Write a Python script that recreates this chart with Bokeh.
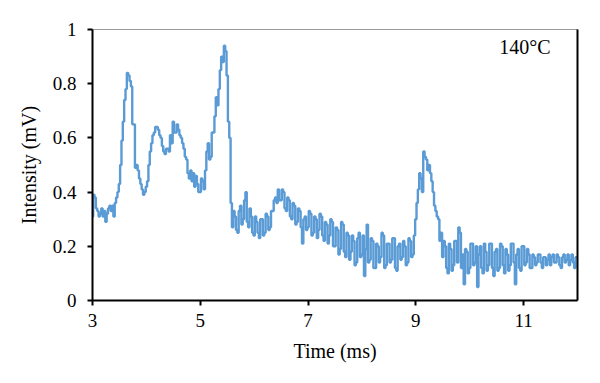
from bokeh.plotting import figure
from bokeh.models import LinearAxis, Range1d, FixedTicker, Label
from bokeh.embed import file_html
from bokeh.resources import INLINE

# sampled signal: start time, sample interval (ms)
t_start = 3.0
t_step = 0.025
intensity = [
    # 3.00 - 3.475
    0.31, 0.39, 0.38, 0.34, 0.33, 0.31, 0.32, 0.34, 0.31, 0.33,
    0.29, 0.32, 0.34, 0.35, 0.33, 0.35, 0.31, 0.36, 0.38, 0.40,
    # 3.50 - 3.975
    0.43, 0.50, 0.59, 0.66, 0.74, 0.78, 0.84, 0.83, 0.81, 0.79,
    0.65, 0.65, 0.49, 0.50, 0.48, 0.45, 0.43, 0.41, 0.39, 0.40,
    # 4.00 - 4.475
    0.42, 0.44, 0.50, 0.55, 0.58, 0.61, 0.62, 0.64, 0.64, 0.63,
    0.61, 0.60, 0.57, 0.55, 0.54, 0.56, 0.56, 0.55, 0.61, 0.58,
    # 4.50 - 4.975
    0.66, 0.62, 0.62, 0.65, 0.63, 0.61, 0.60, 0.58, 0.56, 0.53,
    0.52, 0.47, 0.45, 0.48, 0.44, 0.47, 0.42, 0.46, 0.43, 0.40,
    # 5.00 - 5.475
    0.40, 0.45, 0.44, 0.41, 0.48, 0.55, 0.58, 0.52, 0.53, 0.62,
    0.62, 0.68, 0.75, 0.72, 0.78, 0.85, 0.90, 0.88, 0.94, 0.92,
    # 5.50 - 5.975
    0.83, 0.66, 0.60, 0.36, 0.27, 0.33, 0.31, 0.26, 0.25, 0.33,
    0.35, 0.28, 0.30, 0.37, 0.40, 0.29, 0.27, 0.34, 0.31, 0.25,
    # 6.00 - 6.475
    0.24, 0.31, 0.29, 0.25, 0.23, 0.30, 0.30, 0.24, 0.25, 0.32,
    0.31, 0.26, 0.27, 0.33, 0.33, 0.37, 0.38, 0.36, 0.41, 0.37,
    # 6.50 - 6.975
    0.37, 0.41, 0.40, 0.34, 0.33, 0.38, 0.37, 0.31, 0.30, 0.36,
    0.35, 0.28, 0.29, 0.34, 0.33, 0.27, 0.21, 0.30, 0.31, 0.26,
    # 7.00 - 7.475
    0.27, 0.33, 0.32, 0.24, 0.25, 0.31, 0.30, 0.23, 0.26, 0.32,
    0.31, 0.24, 0.22, 0.29, 0.28, 0.21, 0.24, 0.30, 0.29, 0.20,
    # 7.50 - 7.975
    0.20, 0.27, 0.26, 0.17, 0.19, 0.29, 0.28, 0.18, 0.16, 0.25,
    0.24, 0.15, 0.18, 0.24, 0.22, 0.13, 0.14, 0.23, 0.25, 0.16,
    # 8.00 - 8.475
    0.17, 0.24, 0.09, 0.19, 0.28, 0.14, 0.15, 0.23, 0.22, 0.12,
    0.12, 0.21, 0.20, 0.14, 0.16, 0.25, 0.24, 0.12, 0.13, 0.21,
    # 8.50 - 8.975
    0.21, 0.14, 0.15, 0.23, 0.23, 0.12, 0.11, 0.20, 0.21, 0.15,
    0.16, 0.22, 0.20, 0.13, 0.14, 0.23, 0.22, 0.16, 0.17, 0.24,
    # 9.00 - 9.475
    0.30, 0.36, 0.41, 0.47, 0.45, 0.40, 0.55, 0.53, 0.52, 0.48,
    0.50, 0.47, 0.44, 0.40, 0.35, 0.33, 0.31, 0.30, 0.22, 0.25,
    # 9.50 - 9.975
    0.16, 0.22, 0.20, 0.12, 0.10, 0.21, 0.19, 0.11, 0.13, 0.22,
    0.22, 0.14, 0.27, 0.25, 0.12, 0.17, 0.06, 0.19, 0.18, 0.10,
    # 10.00 - 10.475
    0.12, 0.21, 0.21, 0.13, 0.14, 0.20, 0.05, 0.17, 0.20, 0.12,
    0.10, 0.21, 0.18, 0.11, 0.13, 0.21, 0.21, 0.12, 0.09, 0.18,
    # 10.50 - 10.975
    0.19, 0.11, 0.12, 0.21, 0.20, 0.13, 0.10, 0.19, 0.17, 0.11,
    0.13, 0.21, 0.21, 0.14, 0.06, 0.17, 0.19, 0.12, 0.11, 0.20,
    # 11.00 - 11.475
    0.20, 0.13, 0.14, 0.19, 0.17, 0.12, 0.12, 0.17, 0.16, 0.13,
    0.14, 0.17, 0.17, 0.14, 0.12, 0.16, 0.16, 0.13, 0.15, 0.17,
    # 11.50 - 11.975
    0.13, 0.16, 0.17, 0.14, 0.14, 0.17, 0.16, 0.13, 0.12, 0.16,
    0.17, 0.14, 0.15, 0.17, 0.13, 0.15, 0.17, 0.14, 0.12, 0.16,
    # 12.00
    0.16,
]
time_ms = [t_start + i * t_step for i in range(len(intensity))]

x_ticks = [3, 5, 7, 9, 11]
y_ticks = [0, 0.2, 0.4, 0.6, 0.8, 1]
y_tick_labels = {0: "0", 0.2: "0.2", 0.4: "0.4", 0.6: "0.6", 0.8: "0.8", 1: "1"}

FONT = "Liberation Serif"

p = figure(width=584, height=365, output_backend="svg", toolbar_location=None,
           x_range=Range1d(3, 12), y_range=Range1d(0, 1),
           min_border_left=92, min_border_right=7, min_border_top=29, min_border_bottom=65,
           x_axis_label="Time (ms)", y_axis_label="Intensity (mV)")
p.grid.visible = False
p.outline_line_color = "#999999"
p.outline_line_width = 1

p.step(time_ms, intensity, mode="center", line_color="#5B9BD5", line_width=2.4)

for ax in (p.xaxis[0], p.yaxis[0]):
    ax.axis_line_color = "black"
    ax.axis_line_width = 2
    ax.major_tick_line_color = "black"
    ax.major_tick_line_width = 2
    ax.major_tick_out = 5
    ax.major_tick_in = 0
    ax.minor_tick_line_color = None
    ax.major_label_text_font = FONT
    ax.major_label_text_font_size = "19px"
    ax.major_label_text_color = "black"
    ax.axis_label_text_font = FONT
    ax.axis_label_text_font_size = "20px"
    ax.axis_label_text_font_style = "normal"
    ax.axis_label_text_color = "black"

p.xaxis[0].ticker = FixedTicker(ticks=x_ticks)
p.yaxis[0].ticker = FixedTicker(ticks=y_ticks)
p.yaxis[0].major_label_overrides = y_tick_labels
p.xaxis[0].major_label_standoff = 8
p.yaxis[0].major_label_standoff = 11
p.xaxis[0].axis_label_standoff = 10
p.yaxis[0].axis_label_standoff = 10

right = LinearAxis(ticker=FixedTicker(ticks=[]), axis_line_width=2, axis_line_color="black",
                   major_tick_line_color=None, minor_tick_line_color=None,
                   major_label_text_font_size="0px")
p.add_layout(right, "right")

p.add_layout(Label(x=11.5, y=0.934, text="140°C", text_align="right", text_baseline="middle",
                   text_font=FONT, text_font_size="20px", text_color="black"))

open("out.html", "w").write(file_html(p, INLINE))
